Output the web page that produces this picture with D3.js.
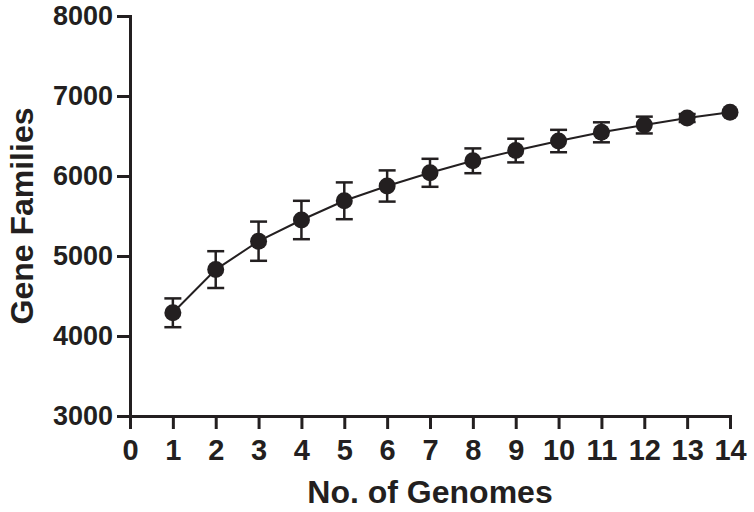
<!DOCTYPE html>
<html>
<head>
<meta charset="utf-8">
<script src="https://cdn.jsdelivr.net/npm/d3@7"></script>
<style>
  body { margin: 0; background: #fff; }
  text { font-family: "Liberation Sans", Arial, sans-serif; font-weight: bold; fill: #231f20; }
</style>
</head>
<body>
<div id="chart"></div>
<script>
// chart values
var genomes = [1, 2, 3, 4, 5, 6, 7, 8, 9, 10, 11, 12, 13, 14];
var families = [4290, 4830, 5185, 5450, 5690, 5875, 6040, 6190, 6318, 6437, 6546, 6637, 6725, 6798];
var errors = [180, 230, 245, 240, 230, 195, 175, 155, 148, 140, 125, 105, 50, 0];
var xTicks = d3.range(0, 15);
var yTicks = [3000, 4000, 5000, 6000, 7000, 8000];

var svgWidth = 754, svgHeight = 512;
var margin = { top: 16, right: 24, bottom: 96, left: 130 };
var width = svgWidth - margin.left - margin.right,
    height = svgHeight - margin.top - margin.bottom;

var ink = "#231f20";

var svg = d3.select("#chart").append("svg")
    .attr("width", svgWidth)
    .attr("height", svgHeight);

var chart = svg.append("g")
    .attr("transform", `translate(${margin.left}, ${margin.top})`);

var x = d3.scaleLinear().domain([0, 14]).range([0, width]);
var y = d3.scaleLinear().domain([3000, 8000]).range([height, 0]);

// x axis
var xAxis = chart.append("g")
    .attr("transform", `translate(0, ${height})`)
    .call(d3.axisBottom(x).tickValues(xTicks).tickSize(13).tickPadding(10).tickFormat(d3.format("d")));
xAxis.select(".domain").attr("stroke", ink).attr("stroke-width", 3);
xAxis.selectAll(".tick line").attr("stroke", ink).attr("stroke-width", 3);
xAxis.selectAll(".tick text")
    .attr("fill", ink)
    .style("font-size", "29px");

// y axis
var yAxis = chart.append("g")
    .call(d3.axisLeft(y).tickValues(yTicks).tickSize(13).tickPadding(4).tickFormat(d3.format("d")));
yAxis.select(".domain").attr("stroke", ink).attr("stroke-width", 3);
yAxis.selectAll(".tick line").attr("stroke", ink).attr("stroke-width", 3);
yAxis.selectAll(".tick text")
    .attr("fill", ink)
    .style("font-size", "27px");

// axis titles
chart.append("text")
    .attr("x", width / 2)
    .attr("y", height + 87)
    .attr("text-anchor", "middle")
    .style("font-size", "32px")
    .text("No. of Genomes");

chart.append("text")
    .attr("transform", "rotate(-90)")
    .attr("x", -height / 2)
    .attr("y", 33 - margin.left)
    .attr("text-anchor", "middle")
    .style("font-size", "32px")
    .text("Gene Families");

var data = genomes.map(function(g, i) {
    return { g: g, v: families[i], e: errors[i] };
});

// connecting line
var line = d3.line()
    .x(d => x(d.g))
    .y(d => y(d.v));
chart.append("path")
    .datum(data)
    .attr("d", line)
    .attr("fill", "none")
    .attr("stroke", ink)
    .attr("stroke-width", 2);

// error bars
var bars = chart.selectAll(".err")
    .data(data.filter(d => d.e > 0))
    .enter()
    .append("g")
    .attr("class", "err")
    .attr("stroke", ink)
    .attr("stroke-width", 2.5);
bars.append("line")
    .attr("x1", d => x(d.g)).attr("x2", d => x(d.g))
    .attr("y1", d => y(d.v + d.e)).attr("y2", d => y(d.v - d.e));
bars.append("line")
    .attr("x1", d => x(d.g) - 8.5).attr("x2", d => x(d.g) + 8.5)
    .attr("y1", d => y(d.v + d.e)).attr("y2", d => y(d.v + d.e));
bars.append("line")
    .attr("x1", d => x(d.g) - 8.5).attr("x2", d => x(d.g) + 8.5)
    .attr("y1", d => y(d.v - d.e)).attr("y2", d => y(d.v - d.e));

// markers
chart.selectAll("circle")
    .data(data)
    .enter()
    .append("circle")
    .attr("cx", d => x(d.g))
    .attr("cy", d => y(d.v))
    .attr("r", 8.5)
    .attr("fill", ink);
</script>
</body>
</html>
